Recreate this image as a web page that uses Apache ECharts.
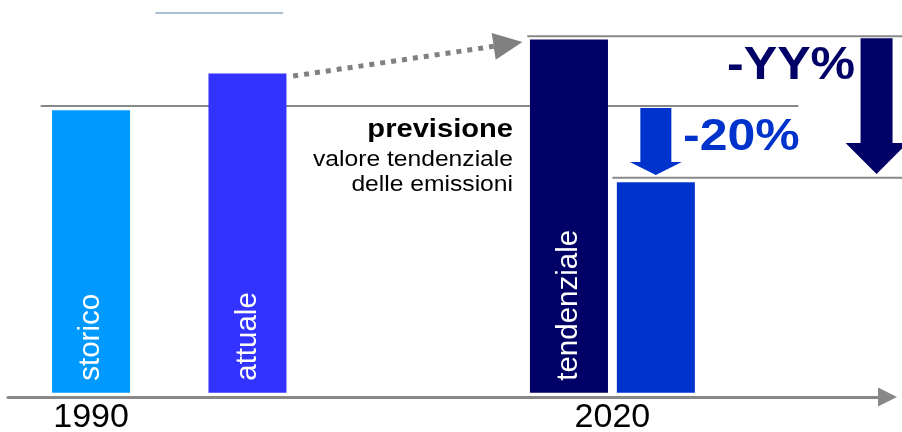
<!DOCTYPE html>
<html>
<head>
<meta charset="utf-8">
<script src="https://cdn.jsdelivr.net/npm/echarts@6/dist/echarts.min.js"></script>
<style>
html,body{margin:0;padding:0;background:#fff;}
#chart{width:902px;height:432px;}
</style>
</head>
<body>
<div id="chart"></div>
<script>
// ---- data ----
const categories = ['storico', 'attuale', 'tendenziale', 'obiettivo'];
const barLabels = ['storico', 'attuale', 'tendenziale', ''];
const barYears = [1990, 1999, 2017.5, 2022.5];
const barValues = [100, 113, 125, 74.5];
const axisYears = [1990, 2020];
// reference lines: [xStart, xEnd, value]
const refLines = [
  [1987.1, 2030.7, 101.5],
  [2015.1, 2036.7, 126.2],
  [2020, 2036.7, 76.1],
  [1993.7, 2001.05, 134.4]
];
// block arrows: [x, valueTop, valueTip]
const blockArrows = [
  [2022.5, 100.8, 77.1],
  [2035.2, 125.5, 77.4]
];
// trend arrow: [xStart, valueStart, xTip, valueTip]
const trendArrow = [[2001.63, 112.1, 2014.82, 124.1]];
const annotations = ['-20%', '-YY%', 'previsione', 'valore tendenziale', 'delle emissioni'];

// ---- styles ----
const barColors = ['#0099FF', '#3333FF', '#000066', '#0033CC'];
const lineColors = ['#888888', '#888888', '#888888', '#A9BDD3'];
const arrowStyles = [
  {color: '#0033CC', shaft: 31, headW: 52, headH: 13},
  {color: '#000066', shaft: 32, headW: 62, headH: 31}
];
const FONT = '"Liberation Sans", Arial, Helvetica, sans-serif';

const chart = echarts.init(document.getElementById('chart'), null, {renderer: 'canvas'});

const barData = barYears.map((x, i) => ({
  name: categories[i],
  value: [x, barValues[i]],
  itemStyle: {color: barColors[i]},
  label: {formatter: barLabels[i]}
}));

const option = {
  animation: false,
  grid: {left: 8, right: 14.5, top: 0, bottom: 35, containLabel: false, outerBoundsMode: 'none'},
  xAxis: {
    type: 'value',
    min: 1985.22,
    max: 2035.83,
    splitLine: {show: false},
    axisTick: {show: false},
    axisLine: {
      show: true,
      onZero: false,
      symbol: ['none', 'triangle'],
      symbolSize: [19, 19],
      lineStyle: {color: '#888888', width: 3}
    },
    axisLabel: {
      customValues: axisYears,
      formatter: v => String(v),
      color: '#000',
      fontSize: 34,
      fontFamily: FONT,
      margin: 4
    }
  },
  yAxis: {type: 'value', min: -1.5, max: 139, show: false},
  graphic: [
    {type: 'text', x: 683, y: 138, scaleX: 1.11,
      style: {text: annotations[0], font: 'bold 45px ' + FONT, fill: '#0033CC', align: 'left', verticalAlign: 'middle'}},
    {type: 'text', x: 727, y: 66.5, scaleX: 1.09,
      style: {text: annotations[1], font: 'bold 46px ' + FONT, fill: '#000066', align: 'left', verticalAlign: 'middle'}},
    {type: 'text', x: 513, y: 130, scaleX: 1.12,
      style: {text: annotations[2], font: 'bold 26px ' + FONT, fill: '#000', align: 'right', verticalAlign: 'middle'}},
    {type: 'text', x: 513, y: 160, scaleX: 1.12,
      style: {text: annotations[3], font: '22px ' + FONT, fill: '#000', align: 'right', verticalAlign: 'middle'}},
    {type: 'text', x: 513, y: 185, scaleX: 1.12,
      style: {text: annotations[4], font: '22px ' + FONT, fill: '#000', align: 'right', verticalAlign: 'middle'}}
  ],
  series: [
    {
      type: 'bar',
      data: barData,
      barWidth: 78,
      label: {
        show: true,
        position: 'insideBottom',
        rotate: 90,
        align: 'left',
        verticalAlign: 'middle',
        distance: 10,
        offset: [2, 0],
        color: '#fff',
        fontSize: 29.5,
        fontFamily: FONT
      },
      silent: true
    },
    {
      type: 'custom',
      data: refLines,
      encode: {x: [0, 1], y: 2},
      silent: true,
      renderItem: function (params, api) {
        const a = api.coord([api.value(0), api.value(2)]);
        const b = api.coord([api.value(1), api.value(2)]);
        return {type: 'line', shape: {x1: a[0], y1: a[1], x2: b[0], y2: b[1]},
          style: {stroke: lineColors[params.dataIndex], lineWidth: 2}};
      }
    },
    {
      type: 'custom',
      data: blockArrows,
      encode: {x: 0, y: [1, 2]},
      silent: true,
      renderItem: function (params, api) {
        const s = arrowStyles[params.dataIndex];
        const top = api.coord([api.value(0), api.value(1)]);
        const tip = api.coord([api.value(0), api.value(2)]);
        const cx = top[0];
        const hy = tip[1] - s.headH;
        return {
          type: 'polygon',
          shape: {points: [
            [cx - s.shaft / 2, top[1]], [cx + s.shaft / 2, top[1]],
            [cx + s.shaft / 2, hy], [cx + s.headW / 2, hy],
            [cx, tip[1]],
            [cx - s.headW / 2, hy], [cx - s.shaft / 2, hy]
          ]},
          style: {fill: s.color}
        };
      }
    },
    {
      type: 'custom',
      data: trendArrow,
      encode: {x: [0, 2], y: [1, 3]},
      silent: true,
      renderItem: function (params, api) {
        const p1 = api.coord([api.value(0), api.value(1)]);
        const p2 = api.coord([api.value(2), api.value(3)]);
        const dx = p2[0] - p1[0], dy = p2[1] - p1[1];
        const len = Math.sqrt(dx * dx + dy * dy);
        const ux = dx / len, uy = dy / len;
        const nx = -uy, ny = ux;
        const headL = 29, headW = 27;
        const bx = p2[0] - ux * headL, by = p2[1] - uy * headL;
        return {
          type: 'group',
          children: [
            {type: 'line', shape: {x1: p1[0], y1: p1[1], x2: bx, y2: by},
              style: {stroke: '#808080', lineWidth: 5, lineDash: [5, 6], lineCap: 'butt'}},
            {type: 'polygon', shape: {points: [
              [p2[0], p2[1]],
              [bx + nx * headW / 2, by + ny * headW / 2],
              [bx - nx * headW / 2, by - ny * headW / 2]
            ]}, style: {fill: '#808080'}}
          ]
        };
      }
    }
  ]
};
chart.setOption(option);
</script>
</body>
</html>
